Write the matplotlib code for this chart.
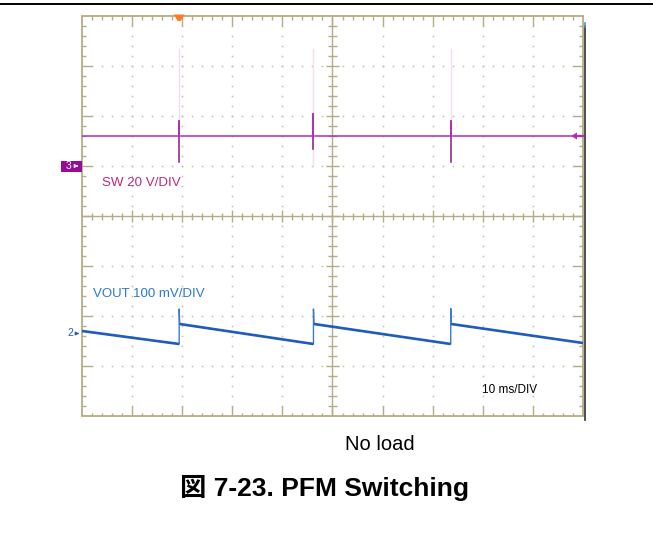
import numpy as np
import matplotlib.pyplot as plt
from matplotlib.collections import LineCollection
from matplotlib.lines import Line2D
from matplotlib.patches import Rectangle, Polygon

plt.rcParams['font.family'] = ['Liberation Sans', 'Noto Sans CJK JP']

# scope settings
time_per_div = 10.0     # ms/DIV
sw_per_div = 20.0       # V/DIV
vout_per_div = 100.0    # mV/DIV
sw_ground = 1.0         # ch3 ground marker (div)
vout_ref = -2.35        # ch2 reference marker (div)
trigger_t = 19.4        # ms

# SW node, volts
sw_level = 12.0
pulse_t = [19.4, 46.2, 73.6]
pulse_hi = [18.0, 21.0, 18.0]
pulse_lo = [1.7, 7.0, 1.7]
envelope_hi = [47.0, 47.0, 47.0]
envelope_lo = [12.0, 0.0, 12.0]

# VOUT ripple, mV (AC coupled)
vout_t = [0, 19.4, 19.4, 19.5, 46.2, 46.2, 46.3, 73.6, 73.6, 73.7, 100]
vout_mv = [5, -21, 49, 19, -21, 49, 19, -21, 50, 19, -19]

frame_c = '#b4ac84'
dot_c = '#c0beaa'
sw_c = '#b52cb5'
sw_dark = '#8a1a80'
sw_pale = '#f4dcf0'
vout_c = '#1f5cbc'


def sw_div(v):
    return sw_ground + np.asarray(v) / sw_per_div


def vout_div(mv):
    return vout_ref + np.asarray(mv) / vout_per_div


def t_div(t):
    return np.asarray(t) / time_per_div


fig = plt.figure(figsize=(6.53, 5.5), dpi=100)
fig.add_artist(Line2D([0, 1], [1 - 3.5 / 550] * 2, color='black', lw=1.4))

ax = fig.add_axes([82 / 653, 1 - 416 / 550, 501 / 653, 400 / 550])
ax.set_xlim(0, 10)
ax.set_ylim(-4, 4)
ax.axis('off')

# graticule dots
xs = np.round(np.arange(0.2, 10, 0.2), 2)
ys = np.round(np.arange(-3.8, 4, 0.2), 2)
for xm in range(1, 10):
    if xm != 5:
        ax.plot([xm] * len(ys), ys, ls='none', marker='s', ms=1.1, mew=0, color=dot_c)
for ym in range(-3, 4):
    if ym != 0:
        ax.plot(xs, [ym] * len(xs), ls='none', marker='s', ms=1.1, mew=0, color=dot_c)

# frame, centre cross and ticks
segs = []
for x in xs:
    big = abs(x - round(x)) < 1e-6
    L = 0.2 if big else 0.07
    segs += [[(x, 4), (x, 4 - L)], [(x, -4), (x, -4 + L)]]
    c = 0.12 if big else 0.07
    segs.append([(x, -c), (x, c)])
for y in ys:
    big = abs(y - round(y)) < 1e-6
    L = 0.2 if big else 0.08
    segs += [[(0, y), (L, y)], [(10, y), (10 - L, y)]]
    c = 0.12 if big else 0.08
    segs.append([(5 - c, y), (5 + c, y)])
segs += [[(0, 0), (10, 0)], [(5, -4), (5, 4)]]
ax.add_collection(LineCollection(segs, colors=frame_c, linewidths=1.0, clip_on=False))
ax.add_patch(Rectangle((0, -4), 10, 8, fill=False, ec=frame_c, lw=1.3, clip_on=False))
ax.plot([10.03, 10.03], [3.8, -4.08], color='#303030', lw=1.2, clip_on=False)
ax.plot([10.03, 10.03], [3.86, 3.78], color='#4a90c0', lw=1.2, clip_on=False)

# SW trace
ax.plot([0, 10], sw_div([sw_level, sw_level]), color=sw_c, lw=1.1)
for t, eh, el in zip(pulse_t, envelope_hi, envelope_lo):
    ax.plot(t_div([t, t]), sw_div([el, eh]), color=sw_pale, lw=1.0)
for t, hi, lo in zip(pulse_t, pulse_hi, pulse_lo):
    ax.plot(t_div([t, t]), sw_div([lo, hi]), color=sw_dark, lw=1.1)
    ax.plot(t_div([t, t]), sw_div([sw_level, hi]), color=sw_c, lw=1.1)

# VOUT trace: thin recharge edges, thick decay ramps
vx = t_div(vout_t)
vy = vout_div(vout_mv)
ax.plot(vx, vy, color='#3a7ad0', lw=1.0)
for i in range(len(vx) - 1):
    if vx[i + 1] - vx[i] > 0.5:
        ax.plot(vx[i:i + 2], vy[i:i + 2], color=vout_c, lw=1.9, solid_capstyle='butt')

# trigger position and level markers
tx = float(t_div(trigger_t))
ax.add_patch(Polygon([(tx - 0.11, 4.03), (tx + 0.11, 4.03), (tx + 0.03, 3.9), (tx - 0.03, 3.9)],
                     closed=True, fc='#ff7a22', ec='none', clip_on=False, zorder=5))
ly = float(sw_div(sw_level))
ax.add_patch(Polygon([(9.76, ly), (9.88, ly + 0.07), (9.88, ly - 0.07)], closed=True,
                     fc=sw_c, ec='none', clip_on=False))
ax.plot([9.86, 10.0], [ly, ly], color=sw_c, lw=1.6, clip_on=False)

# channel markers
ax.add_patch(Rectangle((-0.42, sw_ground - 0.12), 0.42, 0.23, fc='#9a0a9a', ec='none', clip_on=False))
ax.text(-0.27, sw_ground, '3', color='white', fontsize=7.5, ha='center', va='center')
ax.annotate('', xy=(-0.02, sw_ground), xytext=(-0.16, sw_ground),
            arrowprops=dict(arrowstyle='-|>', color='white', lw=0.8, mutation_scale=5),
            annotation_clip=False)
ax.text(-0.18, vout_ref, '2', color=vout_c, fontsize=7.5, ha='right', va='center')
ax.annotate('', xy=(0.0, vout_ref), xytext=(-0.15, vout_ref),
            arrowprops=dict(arrowstyle='-|>', color=vout_c, lw=0.8, mutation_scale=5),
            annotation_clip=False)

# labels
ax.text(0.39, 0.666, 'SW 20 V/DIV', color='#c02a7c', fontsize=9.6, va='center')
ax.text(0.225, -1.566, 'VOUT 100 mV/DIV', color='#2a7ac8', fontsize=9.5, va='center')
ax.text(7.98, -3.48, '10 ms/DIV', color='black', fontsize=8.5, va='center')

fig.text(379.5 / 653, 1 - 444 / 550, 'No load', fontsize=14.5, ha='center', va='center')
fig.text(324.5 / 653, 1 - 488 / 550, '図 7-23. PFM Switching', fontsize=19,
         fontweight='bold', ha='center', va='center')

fig.savefig('out.png', dpi=100)
